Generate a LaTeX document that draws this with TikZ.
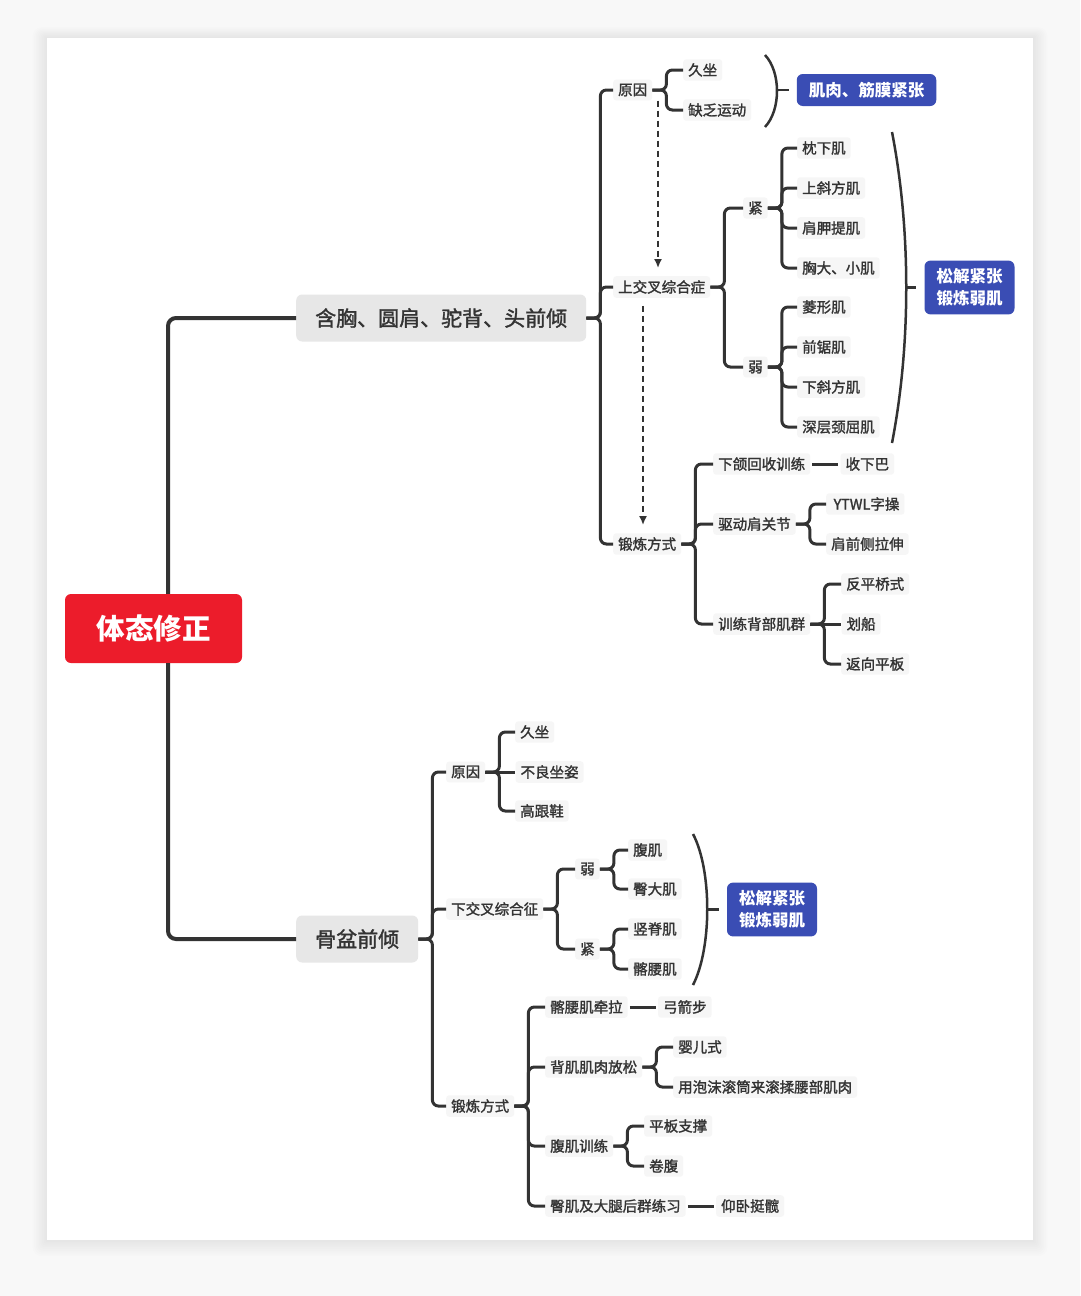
\documentclass[tikz,border=0pt]{standalone}
\usepackage{fontspec}
\setmainfont{Noto Sans CJK SC}
\newfontfamily\medium{Noto Sans CJK SC}[FakeBold=1.6]
\usetikzlibrary{arrows.meta}
\usetikzlibrary{positioning}
\usetikzlibrary{calc}

\definecolor{ink}{HTML}{333333}
\definecolor{pagebg}{HTML}{F8F8F8}
\definecolor{leafbg}{HTML}{F6F6F6}
\definecolor{topicgray}{HTML}{E7E7E7}
\definecolor{rootred}{HTML}{EC1C2B}
\definecolor{tipblue}{HTML}{3A4DB4}

\tikzset{
  leaf/.style={anchor=west, fill=leafbg, rounded corners=3pt, inner xsep=5pt, inner ysep=4pt,
    text=ink, font=\medium\fontsize{14.5}{16}\selectfont},
  topic/.style={anchor=west, fill=topicgray, rounded corners=6pt, inner xsep=19pt,
    minimum height=47pt, text=ink, font=\medium\fontsize{21}{24}\selectfont},
  rootbox/.style={fill=rootred, rounded corners=6pt, minimum width=177pt, minimum height=69pt,
    text=white, font=\fontsize{28.5}{32}\selectfont\bfseries},
  tipbox/.style={fill=tipblue, rounded corners=6pt, inner xsep=12pt, inner ysep=8pt, align=center,
    text=white, font=\fontsize{16.5}{22}\selectfont\bfseries},
  branch/.style={draw=ink, line width=3pt, rounded corners=6pt},
  trunk/.style={draw=ink, line width=4pt, rounded corners=8pt},
  paren/.style={draw=ink, line width=2.5pt},
  flow/.style={draw=ink, line width=2pt, dash pattern=on 6pt off 4pt, -{Latex[length=9pt,width=8pt]}},
}

\newcommand{\fork}[2]{\draw[branch] (#1.east) -- ++(14pt,0) |- (#2.west);}

\begin{document}
\begin{tikzpicture}[x=1pt,y=-1pt]
  \useasboundingbox (0,0) rectangle (1080,1296);
  \fill[pagebg] (0,0) rectangle (1080,1296);
  % card with soft shadow
  \foreach \i in {1,...,9}
    \fill[black, opacity=0.008, rounded corners=\i pt] (47-1.6*\i,38-1.2*\i) rectangle (1033+1.6*\i,1240+1.8*\i);
  \fill[white] (47,38) rectangle (1033,1240);

  % root and topics
  \node[rootbox] (root) at (153.5,628.5) {体态修正};
  \node[topic] (chest) at (296,318) {含胸、圆肩、驼背、头前倾};
  \node[topic] (pelvis) at (296,939) {骨盆前倾};
  \coordinate (rt) at (168,0);
  \draw[trunk] (root.north -| rt) |- (chest.west);
  \draw[trunk] (root.south -| rt) |- (pelvis.west);

  % upper crossed syndrome
  \node[leaf] (u_yy) at (613,90)  {原因};
  \node[leaf] (u_sx) at (613,287) {上交叉综合症};
  \node[leaf] (u_dl) at (613,544) {锻炼方式};
  \foreach \c in {u_yy,u_sx,u_dl} \fork{chest}{\c};

  \node[leaf] (u_jz) at (683,70)  {久坐};
  \node[leaf] (u_qf) at (683,110) {缺乏运动};
  \fork{u_yy}{u_jz}
  \fork{u_yy}{u_qf}

  \node[leaf] (u_jin) at (743,208) {紧};
  \node[leaf] (u_ruo) at (743,367) {弱};
  \fork{u_sx}{u_jin}
  \fork{u_sx}{u_ruo}

  \node[leaf] (u_m1) at (797,148) {枕下肌};
  \node[leaf] (u_m2) at (797,188) {上斜方肌};
  \node[leaf] (u_m3) at (797,228) {肩胛提肌};
  \node[leaf] (u_m4) at (797,268) {胸大、小肌};
  \node[leaf] (u_m5) at (797,307) {菱形肌};
  \node[leaf] (u_m6) at (797,347) {前锯肌};
  \node[leaf] (u_m7) at (797,387) {下斜方肌};
  \node[leaf] (u_m8) at (797,427) {深层颈屈肌};
  \foreach \c in {u_m1,u_m2,u_m3,u_m4} \fork{u_jin}{\c};
  \foreach \c in {u_m5,u_m6,u_m7,u_m8} \fork{u_ruo}{\c};

  \node[leaf] (u_xh) at (713,464) {下颌回收训练};
  \node[leaf] (u_sxb) [right=30pt of u_xh] {收下巴};
  \node[leaf] (u_qd) at (713,524) {驱动肩关节};
  \node[leaf] (u_ytwl) at (826,504) {\,YTWL字操};
  \node[leaf] (u_jq) at (826,544) {肩前侧拉伸};
  \node[leaf] (u_bb) at (713,624) {训练背部肌群};
  \node[leaf] (u_fp) at (841,584) {反平桥式};
  \node[leaf] (u_hc) [right=31pt of u_bb] {划船};
  \node[leaf] (u_fx) at (841,664) {返向平板};
  \foreach \c in {u_xh,u_qd,u_bb} \fork{u_dl}{\c};
  \draw[branch, shorten <=2pt, shorten >=2pt] (u_xh) -- (u_sxb);
  \fork{u_qd}{u_ytwl}
  \fork{u_qd}{u_jq}
  \fork{u_bb}{u_fp}
  \fork{u_bb}{u_fx}
  \draw[branch] (u_bb) -- (u_hc);

  \coordinate (dA) at (658,0);
  \coordinate (dB) at (643,0);
  \draw[flow] (u_yy.south -| dA) -- ([yshift=8pt]u_sx.north -| dA);
  \draw[flow] ([yshift=-8pt]u_sx.south -| dB) -- ([yshift=8pt]u_dl.north -| dB);

  \node[tipbox, minimum height=32pt, inner ysep=2pt] (tipA) at (866.5,90) {肌肉、筋膜紧张};
  \node[tipbox] (tipB) at (969.5,287.5) {松解紧张\\锻炼弱肌};
  \draw[paren] (765,55) .. controls (781,72) and (781,110) .. (765,127);
  \draw[paren] (892,132) .. controls (911,230) and (911,345) .. (892,443);
  \coordinate (pA) at (777,90);
  \coordinate (pB) at (906,287.5);
  \draw[paren] (pA) -- ([xshift=-8pt]tipA.west);
  \draw[paren] (pB) -- ([xshift=-8pt]tipB.west);

  % lower crossed syndrome
  \node[leaf] (l_yy) at (446,772)  {原因};
  \node[leaf] (l_xj) at (446,909)  {下交叉综合征};
  \node[leaf] (l_dl) at (446,1106) {锻炼方式};
  \foreach \c in {l_yy,l_xj,l_dl} \fork{pelvis}{\c};

  \node[leaf] (l_jz) at (515,732) {久坐};
  \node[leaf] (l_bl) [right=30pt of l_yy] {不良坐姿};
  \node[leaf] (l_ggx) at (515,811) {高跟鞋};
  \fork{l_yy}{l_jz}
  \fork{l_yy}{l_ggx}
  \draw[branch] (l_yy) -- (l_bl);

  \node[leaf] (l_ruo) at (575,869) {弱};
  \node[leaf] (l_jin) at (575,949) {紧};
  \fork{l_xj}{l_ruo}
  \fork{l_xj}{l_jin}
  \node[leaf] (l_m1) at (628,850) {腹肌};
  \node[leaf] (l_m2) at (628,889) {臀大肌};
  \node[leaf] (l_m3) at (628,929) {竖脊肌};
  \node[leaf] (l_m4) at (628,969) {髂腰肌};
  \foreach \c in {l_m1,l_m2} \fork{l_ruo}{\c};
  \foreach \c in {l_m3,l_m4} \fork{l_jin}{\c};

  \node[tipbox] (tipC) at (772,909.5) {松解紧张\\锻炼弱肌};
  \draw[paren] (693,834) .. controls (712,870) and (712,948) .. (693,985);
  \coordinate (pC) at (707,909.5);
  \draw[paren] (pC) -- ([xshift=-8pt]tipC.west);

  \node[leaf] (l_k1) at (545,1007) {髂腰肌牵拉};
  \node[leaf] (l_gjb) [right=30pt of l_k1] {弓箭步};
  \node[leaf] (l_k2) at (545,1067) {背肌肌肉放松};
  \node[leaf] (l_yes) at (673,1047) {婴儿式};
  \node[leaf] (l_pm) at (673,1087) {用泡沫滚筒来滚揉腰部肌肉};
  \node[leaf] (l_k3) at (545,1146) {腹肌训练};
  \node[leaf] (l_pb) at (644,1126) {平板支撑};
  \node[leaf] (l_jf) at (644,1166) {卷腹};
  \node[leaf] (l_k4) at (545,1206) {臀肌及大腿后群练习};
  \node[leaf] (l_ywtk) [right=30pt of l_k4] {仰卧挺髋};
  \foreach \c in {l_k1,l_k2,l_k3,l_k4} \fork{l_dl}{\c};
  \draw[branch, shorten <=2pt, shorten >=2pt] (l_k1) -- (l_gjb);
  \draw[branch, shorten <=2pt, shorten >=2pt] (l_k4) -- (l_ywtk);
  \fork{l_k2}{l_yes}
  \fork{l_k2}{l_pm}
  \fork{l_k3}{l_pb}
  \fork{l_k3}{l_jf}
\end{tikzpicture}
\end{document}
